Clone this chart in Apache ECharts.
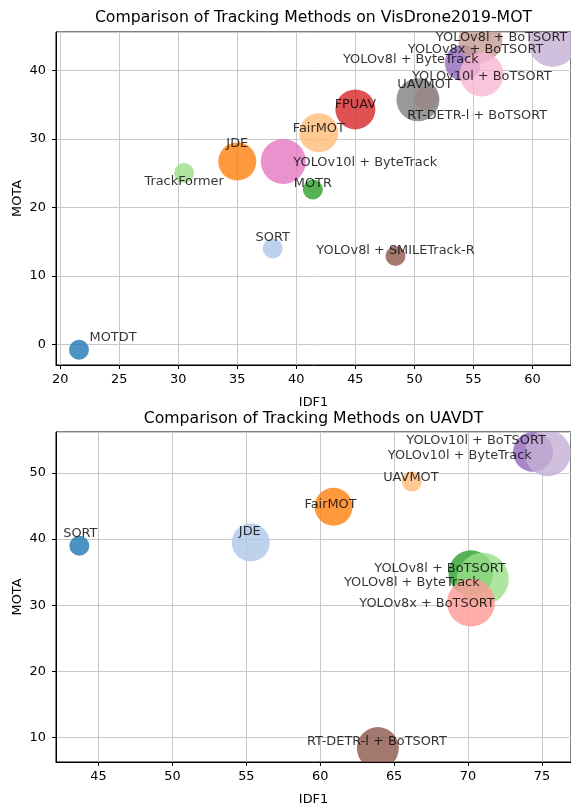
<!DOCTYPE html>
<html>
<head>
<meta charset="utf-8">
<script src="https://cdn.jsdelivr.net/npm/echarts@6/dist/echarts.min.js"></script>
<style>html,body{margin:0;padding:0;background:#fff}#c{width:571px;height:807px}</style>
</head>
<body>
<div id="c"></div>
<script>
// ---------- DATA: VisDrone2019-MOT ----------
const visMethods = ['MOTDT','SORT','JDE','FairMOT','MOTR','TrackFormer','FPUAV','RT-DETR-l + BoTSORT','YOLOv8l + ByteTrack','YOLOv8l + BoTSORT','YOLOv8l + SMILETrack-R','YOLOv8x + BoTSORT','YOLOv10l + ByteTrack','YOLOv10l + BoTSORT','UAVMOT'];
const visIDF1 = [21.6, 38.0, 35.0, 41.9, 41.4, 30.5, 45.0, 51.0, 54.1, 61.7, 48.4, 55.6, 38.9, 55.7, 50.3];
const visMOTA = [-0.8, 14.0, 26.7, 30.9, 22.6, 25.0, 34.3, 35.9, 41.1, 44.0, 12.9, 44.4, 26.7, 39.4, 35.7];
const visBubble = [240, 240, 870, 910, 240, 240, 960, 350, 780, 1380, 240, 1160, 1220, 1160, 1110];

// ---------- DATA: UAVDT ----------
const uavMethods = ['SORT','JDE','FairMOT','UAVMOT','YOLOv8l + BoTSORT','YOLOv8l + ByteTrack','YOLOv8x + BoTSORT','YOLOv10l + BoTSORT','YOLOv10l + ByteTrack','RT-DETR-l + BoTSORT'];
const uavIDF1 = [43.7, 55.3, 60.9, 66.2, 70.2, 71.0, 70.2, 74.4, 75.4, 63.9];
const uavMOTA = [39.0, 39.5, 44.9, 48.7, 34.9, 34.0, 30.4, 53.2, 53.0, 8.4];
const uavBubble = [240, 870, 870, 240, 1220, 1620, 1380, 960, 1270, 1060];

// ---------- STYLE ----------
const visColors = ['#1f77b4','#aec7e8','#ff7f0e','#ffbb78','#2ca02c','#98df8a','#d62728','#ff9896','#9467bd','#c5b0d5','#8c564b','#c49c94','#e377c2','#f7b6d2','#7f7f7f'];
const visLabelOffsets = [[34,-12],[0,-11],[0,-18],[0,-4],[0,-6],[0,9],[0,-5],[51,17],[-52,-3],[-51,-5],[0,-5],[-5,9],[82,1],[0,2],[7,-15]];
const uavColors = ['#1f77b4','#aec7e8','#ff7f0e','#ffbb78','#2ca02c','#98df8a','#ff9896','#9467bd','#c5b0d5','#8c564b'];
const uavLabelOffsets = [[1,-12],[-1,-11],[-3,-2],[-1,-4],[-31,-4],[-71,4],[-44,1],[-57,-11],[-88,2],[-1,-6]];

const FONT = 'DejaVu Sans';
const FS = 12.9;
const PT = 1.29;

function bubbleSeries(k, xs, ys, s, colors) {
  return {
    type: 'custom', xAxisIndex: k, yAxisIndex: k, clip: true, silent: true, z: 2,
    data: xs.map((x, i) => [x, ys[i], s[i]]),
    encode: { x: 0, y: 1 },
    renderItem: (params, api) => {
      const c = api.coord([api.value(0), api.value(1)]);
      const r = Math.sqrt(api.value(2)) * PT / 2;
      return { type: 'circle', shape: { cx: c[0], cy: c[1], r: r },
               style: { fill: colors[params.dataIndex], opacity: 0.8 } };
    }
  };
}
function labelSeries(k, names, xs, ys, offsets) {
  return {
    type: 'scatter', xAxisIndex: k, yAxisIndex: k, clip: false, silent: true, z: 5,
    symbolSize: 1, itemStyle: { color: 'rgba(0,0,0,0)' },
    data: names.map((n, i) => ({ name: n, value: [xs[i], ys[i]] })),
    label: { show: true, position: 'inside', formatter: '{b}', color: '#000', fontSize: FS, fontFamily: FONT },
    labelLayout: (p) => ({ dx: offsets[p.dataIndex][0], dy: offsets[p.dataIndex][1], hideOverlap: false })
  };
}
function xAx(k, min, max, split) {
  return {
    gridIndex: k, type: 'value', min: min, max: max, splitNumber: split,
    name: 'IDF1', nameLocation: 'middle', nameGap: 31, nameMoveOverlap: false,
    nameTextStyle: { color: '#000', fontSize: FS, fontFamily: FONT },
    axisLine: { onZero: false, lineStyle: { color: '#000', width: 1 } },
    axisTick: { show: true, length: 4, lineStyle: { color: '#000' } },
    axisLabel: { showMinLabel: false, showMaxLabel: false, margin: 8, color: '#000', fontSize: FS, fontFamily: FONT },
    splitLine: { show: true, lineStyle: { color: '#c8c8c8', width: 1 } }
  };
}
function yAx(k, min, max, split) {
  return {
    gridIndex: k, type: 'value', min: min, max: max, splitNumber: split,
    name: 'MOTA', nameLocation: 'middle', nameGap: 32, nameMoveOverlap: false,
    nameTextStyle: { color: '#000', fontSize: FS, fontFamily: FONT },
    axisLine: { onZero: false, lineStyle: { color: '#000', width: 1 } },
    axisTick: { show: true, length: 4, lineStyle: { color: '#000' } },
    axisLabel: { showMinLabel: false, showMaxLabel: false, margin: 10, color: '#000', fontSize: FS, fontFamily: FONT },
    splitLine: { show: true, lineStyle: { color: '#c8c8c8', width: 1 } }
  };
}

const chart = echarts.init(document.getElementById('c'), null, { renderer: 'canvas' });
chart.setOption({
  animation: false,
  backgroundColor: '#fff',
  grid: [
    { left: 56, top: 32, width: 515, height: 333, show: true, borderColor: '#000', borderWidth: 1, backgroundColor: 'transparent' },
    { left: 56, top: 432, width: 515, height: 334, show: true, borderColor: '#000', borderWidth: 1, backgroundColor: 'transparent' }
  ],
  xAxis: [xAx(0, 19.65, 63.26, 9), xAx(1, 42.12, 76.97, 7)],
  yAxis: [yAx(0, -3.02, 45.6, 5), yAx(1, 6.3, 56.2, 5)],
  graphic: [
    { type: 'text', x: 313.5, y: 17.5, style: { text: 'Comparison of Tracking Methods on VisDrone2019-MOT', textAlign: 'center', textVerticalAlign: 'middle', fill: '#000', font: '15.7px "DejaVu Sans"' } },
    { type: 'text', x: 313.5, y: 418.5, style: { text: 'Comparison of Tracking Methods on UAVDT', textAlign: 'center', textVerticalAlign: 'middle', fill: '#000', font: '15.7px "DejaVu Sans"' } }
  ],
  series: [
    bubbleSeries(0, visIDF1, visMOTA, visBubble, visColors),
    labelSeries(0, visMethods, visIDF1, visMOTA, visLabelOffsets),
    bubbleSeries(1, uavIDF1, uavMOTA, uavBubble, uavColors),
    labelSeries(1, uavMethods, uavIDF1, uavMOTA, uavLabelOffsets)
  ]
});
</script>
</body>
</html>
